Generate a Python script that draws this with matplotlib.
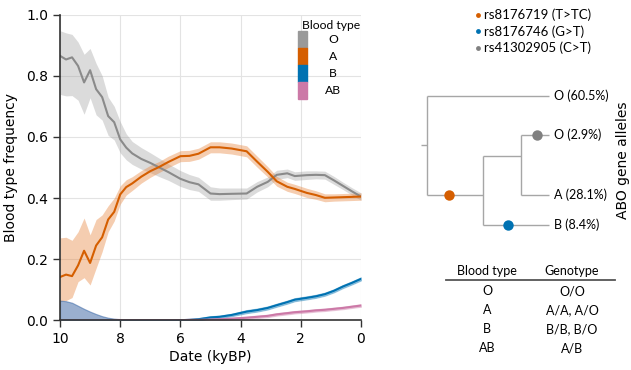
import numpy as np
import matplotlib.pyplot as plt
from matplotlib.patches import Rectangle

# time axis (kyBP) shared by all series
dates = [10.0, 9.8, 9.6, 9.4, 9.2, 9.0, 8.8, 8.6, 8.4, 8.2, 8.0, 7.8, 7.6, 7.3, 7.0, 6.7,
         6.4, 6.0, 5.7, 5.4, 5.0, 4.7, 4.3, 3.8, 3.45, 3.1, 2.8, 2.45, 2.2, 1.8, 1.5, 1.2,
         0.9, 0.6, 0.3, 0.0]

freq_O = [0.865, 0.853, 0.860, 0.832, 0.778, 0.818, 0.756, 0.730, 0.668, 0.648, 0.592, 0.565,
          0.546, 0.528, 0.515, 0.500, 0.485, 0.463, 0.452, 0.445, 0.415, 0.413, 0.414, 0.415,
          0.437, 0.453, 0.476, 0.481, 0.472, 0.475, 0.476, 0.475, 0.458, 0.440, 0.422, 0.405]
O_hi = [0.947, 0.940, 0.935, 0.910, 0.870, 0.889, 0.840, 0.800, 0.730, 0.700, 0.650, 0.610,
        0.585, 0.565, 0.548, 0.530, 0.512, 0.490, 0.477, 0.468, 0.437, 0.433, 0.433, 0.433,
        0.454, 0.469, 0.491, 0.495, 0.486, 0.489, 0.489, 0.488, 0.471, 0.452, 0.434, 0.417]
O_lo = [0.739, 0.734, 0.735, 0.720, 0.674, 0.728, 0.672, 0.655, 0.605, 0.590, 0.548, 0.525,
        0.510, 0.495, 0.483, 0.470, 0.458, 0.438, 0.428, 0.422, 0.393, 0.393, 0.395, 0.397,
        0.420, 0.437, 0.461, 0.467, 0.458, 0.461, 0.463, 0.462, 0.445, 0.428, 0.410, 0.393]

freq_A = [0.142, 0.150, 0.145, 0.180, 0.228, 0.188, 0.245, 0.272, 0.330, 0.355, 0.412, 0.436,
          0.448, 0.470, 0.488, 0.502, 0.518, 0.537, 0.538, 0.545, 0.566, 0.566, 0.562, 0.553,
          0.519, 0.486, 0.455, 0.437, 0.430, 0.417, 0.410, 0.401, 0.402, 0.403, 0.404, 0.405]
A_hi = [0.270, 0.272, 0.262, 0.290, 0.335, 0.280, 0.330, 0.345, 0.375, 0.400, 0.440, 0.460,
        0.470, 0.490, 0.507, 0.520, 0.537, 0.555, 0.556, 0.563, 0.584, 0.584, 0.580, 0.571,
        0.537, 0.503, 0.471, 0.452, 0.445, 0.432, 0.424, 0.414, 0.414, 0.415, 0.416, 0.417]
A_lo = [0.062, 0.065, 0.075, 0.127, 0.140, 0.116, 0.171, 0.225, 0.290, 0.325, 0.380, 0.410,
        0.425, 0.449, 0.468, 0.484, 0.500, 0.519, 0.520, 0.527, 0.548, 0.548, 0.544, 0.535,
        0.501, 0.469, 0.439, 0.422, 0.415, 0.402, 0.396, 0.388, 0.390, 0.391, 0.392, 0.393]

freq_B = [0.000, 0.000, 0.000, 0.000, 0.000, 0.000, 0.000, 0.000, 0.000, 0.000, 0.000, 0.000,
          0.000, 0.000, 0.000, 0.000, 0.000, 0.001, 0.002, 0.004, 0.010, 0.012, 0.018, 0.029,
          0.034, 0.041, 0.050, 0.060, 0.068, 0.074, 0.079, 0.086, 0.097, 0.111, 0.123, 0.136]
B_err = [0.065, 0.063, 0.058, 0.048, 0.038, 0.029, 0.021, 0.014, 0.009, 0.006, 0.004, 0.003,
         0.003, 0.003, 0.003, 0.003, 0.003, 0.003, 0.003, 0.004, 0.004, 0.004, 0.004, 0.005,
         0.005, 0.005, 0.005, 0.005, 0.005, 0.005, 0.005, 0.005, 0.005, 0.005, 0.005, 0.005]

freq_AB = [0.000, 0.000, 0.000, 0.000, 0.000, 0.000, 0.000, 0.000, 0.000, 0.000, 0.001, 0.001,
           0.001, 0.001, 0.001, 0.001, 0.001, 0.001, 0.002, 0.002, 0.003, 0.004, 0.006, 0.009,
           0.012, 0.015, 0.020, 0.024, 0.027, 0.030, 0.033, 0.035, 0.038, 0.041, 0.045, 0.049]
AB_err = [0.065, 0.063, 0.058, 0.048, 0.038, 0.029, 0.021, 0.014, 0.009, 0.006, 0.004, 0.003,
          0.003, 0.003, 0.003, 0.003, 0.003, 0.003, 0.003, 0.003, 0.003, 0.003, 0.003, 0.004,
          0.004, 0.004, 0.004, 0.004, 0.004, 0.004, 0.004, 0.004, 0.004, 0.004, 0.004, 0.004]

blood_types = ['O', 'A', 'B', 'AB']
line_colors = ['#8a8a8a', '#d55e00', '#0072b2', '#cc79a7']
patch_colors = ['#999999', '#d55e00', '#0072b2', '#cc79a7']

snp_labels = ['rs8176719 (T>TC)', 'rs8176746 (G>T)', 'rs41302905 (C>T)']
snp_colors = ['#d55e00', '#0072b2', '#808080']
allele_labels = ['O (60.5%)', 'O (2.9%)', 'A (28.1%)', 'B (8.4%)']
table_header = ['Blood type', 'Genotype']
table_types = ['O', 'A', 'B', 'AB']
table_genotypes = ['O/O', 'A/A, A/O', 'B/B, B/O', 'A/B']

x = np.array(dates)
fig = plt.figure(figsize=(6.31, 3.70), dpi=100)
ax = fig.add_axes([0.0951, 0.1338, 0.477, 0.827])

# bands (AB under B so the overlap reads steel blue)
ax.fill_between(x, O_lo, O_hi, color='#999999', alpha=0.35, lw=0)
ax.fill_between(x, A_lo, A_hi, color='#e8833a', alpha=0.4, lw=0)
b = np.array(freq_B)
ab = np.array(freq_AB)
ax.fill_between(x, np.clip(ab - AB_err, 0, None), ab + AB_err, color='#cc79a7', alpha=0.35, lw=0.8)
ax.fill_between(x, np.clip(b - B_err, 0, None), b + B_err, color='#0072b2', alpha=0.35, lw=0.8)

series = [freq_O, freq_A, freq_B, freq_AB]
for vals, c in zip(series, line_colors):
    ax.plot(x, vals, color=c, lw=1.5)

ax.set_xlim(10, 0)
ax.set_ylim(0, 1.0)
ax.set_xticks([10, 8, 6, 4, 2, 0])
ax.set_yticks([0, 0.2, 0.4, 0.6, 0.8, 1.0])
ax.grid(True, color='#e3e3e3', lw=0.8)
ax.set_axisbelow(True)
for s in ['top', 'right']:
    ax.spines[s].set_visible(False)
for s in ['left', 'bottom']:
    ax.spines[s].set_color('#333333')
    ax.spines[s].set_linewidth(1.2)
ax.tick_params(labelsize=10, length=5, width=1.0, color='#333333')
ax.set_xlabel('Date (kyBP)', fontsize=10, labelpad=3)
ax.set_ylabel('Blood type frequency', fontsize=10, labelpad=6)

# blood type legend drawn as stacked patches
ax.text(0.9, 0.965, 'Blood type', transform=ax.transAxes, ha='center', va='center',
        fontsize=8.7, family='Lato')
row_h = 0.0556
for i, (lab, c) in enumerate(zip(blood_types, patch_colors)):
    y0 = 0.946 - (i + 1) * row_h
    ax.add_patch(Rectangle((0.791, y0), 0.03, row_h, transform=ax.transAxes, color=c,
                           clip_on=False))
    ax.text(0.907, y0 + row_h / 2, lab, transform=ax.transAxes, ha='center', va='center',
            fontsize=8.7, family='Lato')

# right panel in pixel coordinates
ov = fig.add_axes([0, 0, 1, 1])
ov.set_xlim(0, 631)
ov.set_ylim(370, 0)
ov.axis('off')
ov.patch.set_alpha(0)

for i, (lab, c) in enumerate(zip(snp_labels, snp_colors)):
    yy = 15 + i * 16.3
    ov.plot(478, yy, 'o', color=c, ms=3.5, mec='none')
    ov.text(484, yy, lab, ha='left', va='center', fontsize=9.5, family='Lato')

tc = '#a6a6a6'
tree_segments = [
    ((421, 427), (145, 145)),
    ((427, 427), (95.7, 195)),
    ((427, 549), (95.7, 95.7)),
    ((427, 483), (195, 195)),
    ((483, 483), (155.7, 225)),
    ((483, 521), (155.7, 155.7)),
    ((521, 521), (135, 195)),
    ((521, 549), (135, 135)),
    ((521, 549), (195, 195)),
    ((483, 549), (225, 225)),
]
for xs, ys in tree_segments:
    ov.plot(xs, ys, color=tc, lw=1.0, solid_capstyle='butt')

ov.plot(449, 195, 'o', color=snp_colors[0], ms=7.5, mec='none')
ov.plot(508, 225, 'o', color=snp_colors[1], ms=7.5, mec='none')
ov.plot(537, 135, 'o', color=snp_colors[2], ms=7.5, mec='none')

for lab, yy in zip(allele_labels, [95.7, 135, 195, 225]):
    ov.text(554, yy, lab, ha='left', va='center', fontsize=9, family='Lato')

ov.text(623, 160, 'ABO gene alleles', rotation=90, ha='center', va='center', fontsize=10)

ov.text(487, 271, table_header[0], ha='center', va='center', fontsize=9, family='Lato')
ov.text(572, 271, table_header[1], ha='center', va='center', fontsize=9, family='Lato')
ov.plot([446, 615], [280, 280], color='#555555', lw=1.3)
for i, (t, g) in enumerate(zip(table_types, table_genotypes)):
    yy = 291 + i * 19.1
    ov.text(487, yy, t, ha='center', va='center', fontsize=9, family='Lato')
    ov.text(572, yy, g, ha='center', va='center', fontsize=9, family='Lato')

fig.savefig('out.png', dpi=100)
